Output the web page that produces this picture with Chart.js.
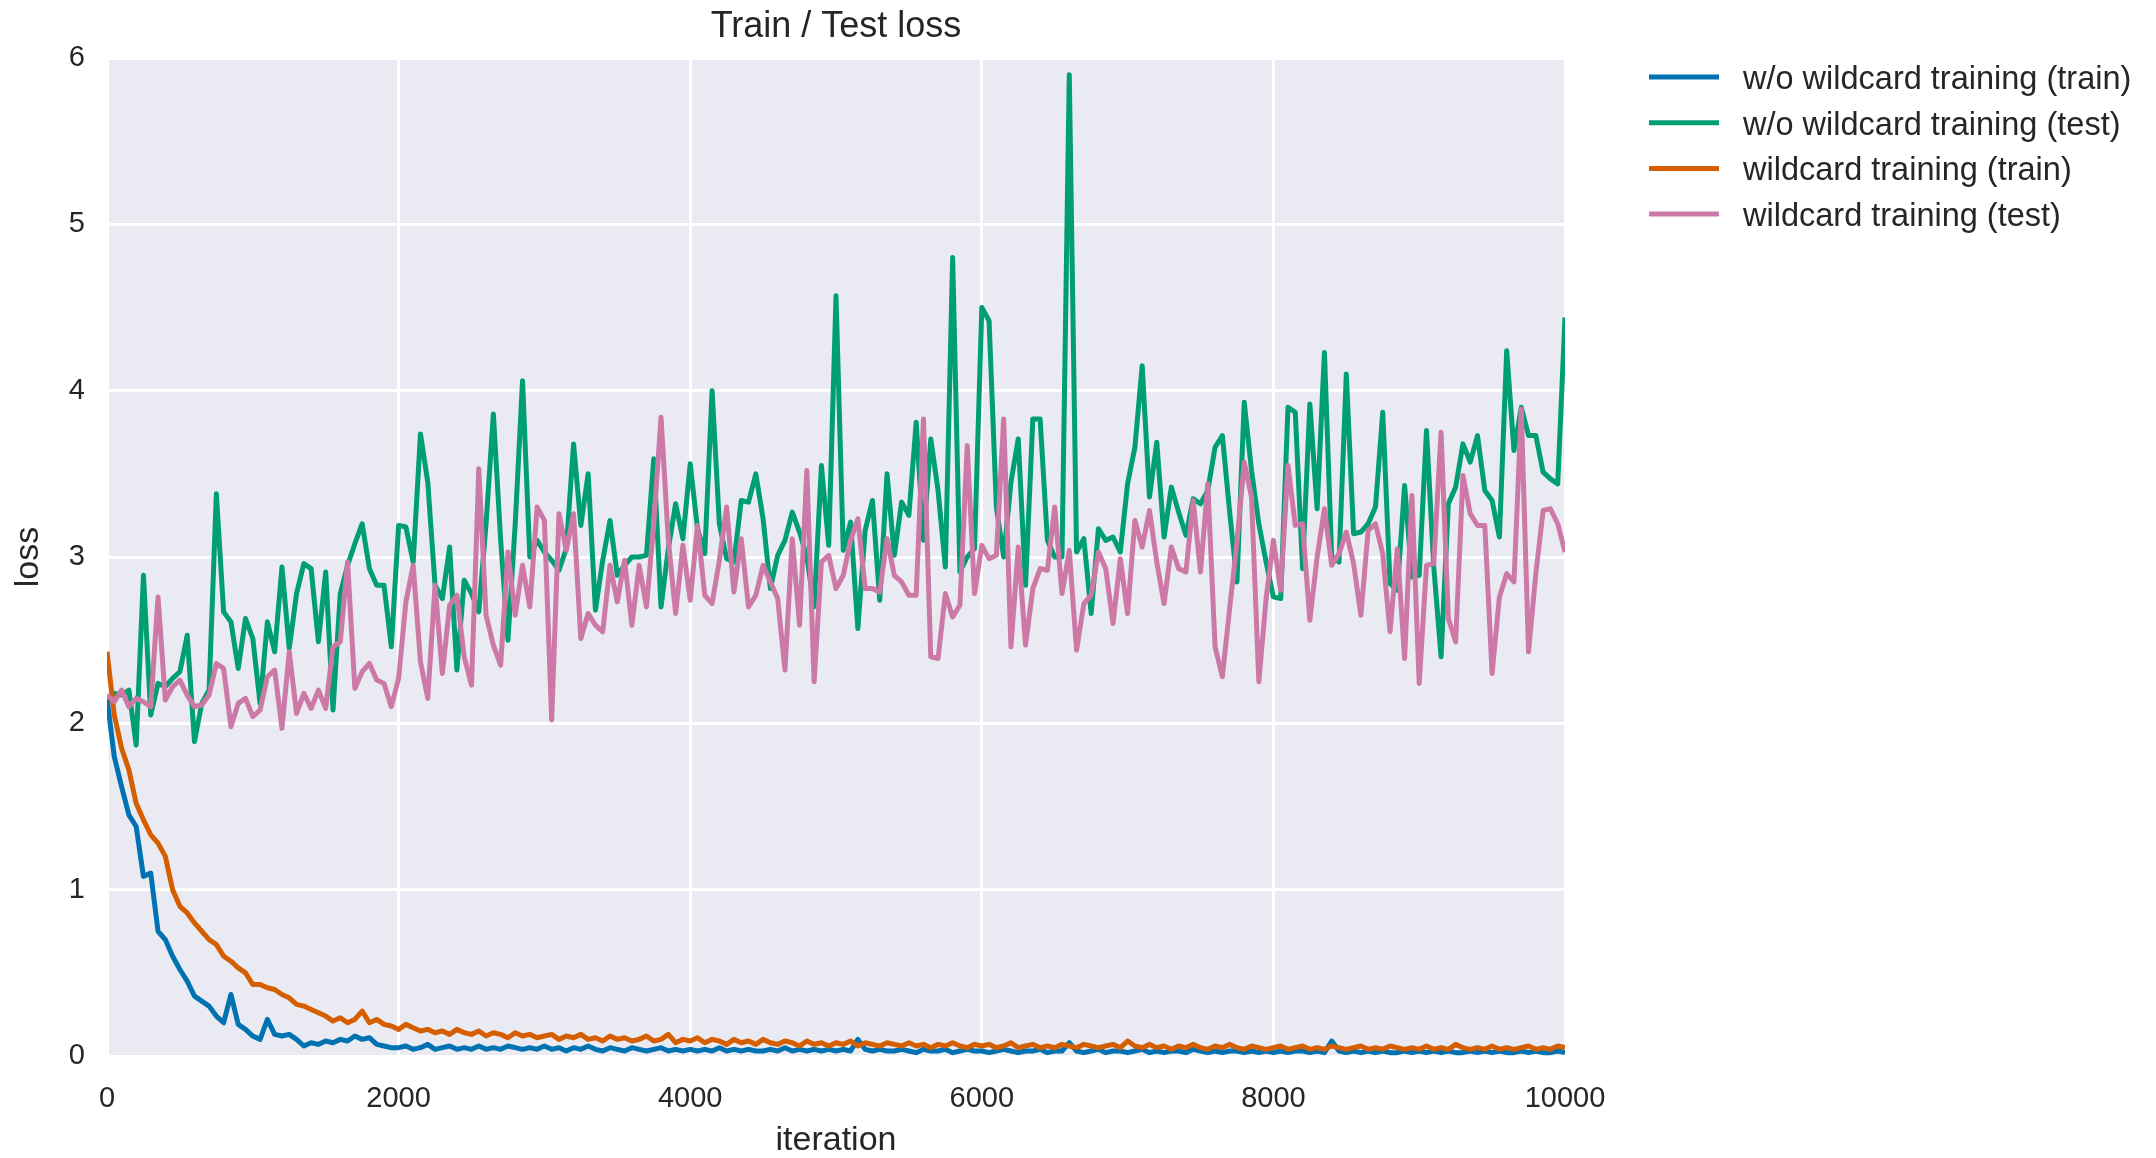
<!DOCTYPE html>
<html lang="en">

<head>
  <meta charset="UTF-8">
  <title>Train / Test loss</title>
  <!-- Chart.js para desenhar o gráfico -->
  <script src="https://cdn.jsdelivr.net/npm/chart.js"></script>
  <style>
    body { margin: 0; background: #ffffff; }
    canvas { display: block; }
  </style>
</head>

<body>
  <canvas id="grafico" width="2156" height="1158"></canvas>

  <script>
    // Intervalo entre as medições (iterações)
    var STEP = 50;

    // Ticks dos eixos
    var xTicks = [0, 2000, 4000, 6000, 8000, 10000];
    var yTicks = [0, 1, 2, 3, 4, 5, 6];

    // Nomes das séries (legenda)
    var seriesNames = [
      'w/o wildcard training (train)',
      'w/o wildcard training (test)',
      'wildcard training (train)',
      'wildcard training (test)'
    ];
    var seriesColors = ['#0072B2', '#009E73', '#D55E00', '#CC79A7'];

    // w/o wildcard training (train), uma medição a cada 50 iterações
    var woTrain = [
      2.15, 1.8, 1.62, 1.45, 1.38, 1.08, 1.1, 0.75, 0.7, 0.6, 0.52, 0.45, 0.36, 0.33, 0.3, 0.24, 0.2, 0.37, 0.19, 0.16,
      0.12, 0.1, 0.22, 0.13, 0.12, 0.13, 0.1, 0.06, 0.08, 0.07, 0.09, 0.08, 0.1, 0.09, 0.12, 0.1, 0.11, 0.07, 0.06, 0.05,
      0.05,
      0.06, 0.04, 0.05, 0.07, 0.04, 0.05, 0.06, 0.04, 0.05, 0.04, 0.06, 0.04, 0.05, 0.04, 0.06, 0.05, 0.04, 0.05, 0.04, 0.06,
      0.04, 0.05, 0.03, 0.05, 0.04, 0.06, 0.04, 0.03, 0.05, 0.04, 0.03, 0.05, 0.04, 0.03, 0.04, 0.05, 0.03, 0.04, 0.03, 0.04,
      0.03, 0.04, 0.03, 0.05, 0.03, 0.04, 0.03, 0.04, 0.03, 0.03, 0.04, 0.03, 0.05, 0.03, 0.04, 0.03, 0.04, 0.03, 0.04, 0.03,
      0.04, 0.03, 0.1, 0.04, 0.03, 0.04, 0.03, 0.03, 0.04, 0.03, 0.02, 0.04, 0.03, 0.03, 0.04, 0.02, 0.03, 0.04, 0.03, 0.03,
      0.02, 0.03, 0.04, 0.03, 0.02, 0.03, 0.03, 0.04, 0.02, 0.03, 0.03, 0.08, 0.03, 0.02, 0.03, 0.04, 0.02, 0.03, 0.03, 0.02,
      0.03, 0.04, 0.02, 0.03, 0.02, 0.03, 0.03, 0.02, 0.04, 0.03, 0.02, 0.03, 0.02, 0.03, 0.03, 0.02, 0.03, 0.02, 0.03, 0.02,
      0.03, 0.02, 0.03, 0.03, 0.02, 0.03, 0.02, 0.09, 0.03, 0.02, 0.03, 0.02, 0.03, 0.02, 0.03, 0.02, 0.02, 0.03, 0.02, 0.03,
      0.02, 0.03, 0.02, 0.03, 0.02, 0.02, 0.03, 0.02, 0.03, 0.02, 0.03, 0.02, 0.02, 0.03, 0.02, 0.03, 0.02, 0.02, 0.03, 0.02
    ];

    // w/o wildcard training (test)
    var woTest = [
      2.15, 2.18, 2.17, 2.2, 1.87, 2.89, 2.05, 2.24, 2.22, 2.27, 2.31, 2.53, 1.89, 2.12, 2.2, 3.38, 2.67, 2.61, 2.33, 2.63,
      2.51, 2.12, 2.61, 2.43, 2.94, 2.45, 2.78, 2.96, 2.93, 2.49, 2.91, 2.08, 2.78, 2.95, 3.08, 3.2, 2.93, 2.83, 2.83, 2.46,
      3.19,
      3.18, 2.97, 3.74, 3.45, 2.83, 2.75, 3.06, 2.32, 2.86, 2.78, 2.67, 3.2, 3.86, 3.1, 2.5, 3.2, 4.06, 3.0, 3.1, 3.03,
      2.98, 2.92, 3.05, 3.68, 3.19, 3.5, 2.68, 2.98, 3.22, 2.89, 2.95, 3.0, 3.0, 3.01, 3.59, 2.7, 3.05, 3.32, 3.11,
      3.56, 3.17, 3.02, 4.0, 3.2, 2.99, 2.97, 3.34, 3.33, 3.5, 3.23, 2.81, 3.01, 3.1, 3.27, 3.15, 3.0, 2.7, 3.55, 3.07,
      4.57, 3.04, 3.21, 2.57, 3.16, 3.34, 2.74, 3.5, 3.01, 3.33, 3.25, 3.81, 3.1, 3.71, 3.4, 2.94, 4.8, 2.91, 3.0, 3.05,
      4.5, 4.42, 3.3, 3.0, 3.45, 3.71, 2.83, 3.83, 3.83, 3.1, 3.0, 3.0, 5.9, 3.03, 3.11, 2.66, 3.17, 3.1, 3.12, 3.03,
      3.44, 3.66, 4.15, 3.36, 3.69, 3.12, 3.42, 3.27, 3.13, 3.35, 3.32, 3.4, 3.66, 3.73, 3.27, 2.85, 3.93, 3.52, 3.2,
      2.97, 2.76, 2.75, 3.9, 3.87, 2.93, 3.92, 3.29, 4.23, 3.0, 2.97, 4.1, 3.14, 3.15, 3.2, 3.3, 3.87, 2.84, 2.8, 3.43,
      2.88, 2.89, 3.76, 2.94, 2.4, 3.32, 3.42, 3.68, 3.57, 3.73, 3.4, 3.34, 3.12, 4.24, 3.64, 3.9, 3.73, 3.73, 3.51, 3.47,
      3.44, 4.44
    ];

    // wildcard training (train)
    var wcTrain = [
      2.43, 2.05, 1.85, 1.72, 1.52, 1.42, 1.33, 1.28, 1.2, 1.0, 0.9, 0.86, 0.8, 0.75, 0.7, 0.67, 0.6, 0.57, 0.53, 0.5,
      0.43, 0.43, 0.41, 0.4, 0.37, 0.35, 0.31, 0.3, 0.28, 0.26, 0.24, 0.21, 0.23, 0.2, 0.22, 0.27, 0.2, 0.22, 0.19, 0.18,
      0.16,
      0.19, 0.17, 0.15, 0.16, 0.14, 0.15, 0.13, 0.16, 0.14, 0.13, 0.15, 0.12, 0.14, 0.13, 0.11, 0.14, 0.12, 0.13, 0.11, 0.12,
      0.13, 0.1, 0.12, 0.11, 0.13, 0.1, 0.11, 0.09, 0.12, 0.1, 0.11, 0.09, 0.1, 0.12, 0.09, 0.1, 0.13, 0.08, 0.1, 0.09,
      0.11, 0.08, 0.1, 0.09, 0.07, 0.1, 0.08, 0.09, 0.07, 0.1, 0.08, 0.07, 0.09, 0.08, 0.06, 0.09, 0.07, 0.08, 0.06, 0.08,
      0.07, 0.09, 0.06, 0.08, 0.07, 0.06, 0.08, 0.07, 0.06, 0.08, 0.06, 0.07, 0.05, 0.07, 0.06, 0.08, 0.06, 0.05, 0.07, 0.06,
      0.07, 0.05, 0.06, 0.08, 0.05, 0.06, 0.07, 0.05, 0.06, 0.05, 0.07, 0.06, 0.05, 0.07, 0.06, 0.05, 0.06, 0.07, 0.05, 0.09,
      0.06, 0.05, 0.07, 0.05, 0.06, 0.04, 0.06, 0.05, 0.07, 0.05, 0.04, 0.06, 0.05, 0.07, 0.05, 0.04, 0.06, 0.05, 0.04, 0.05,
      0.06, 0.04, 0.05, 0.06, 0.04, 0.05, 0.04, 0.06, 0.05, 0.04, 0.05, 0.06, 0.04, 0.05, 0.04, 0.06, 0.05, 0.04, 0.05, 0.04,
      0.06, 0.04, 0.05, 0.04, 0.07, 0.05, 0.04, 0.05, 0.04, 0.06, 0.04, 0.05, 0.04, 0.05, 0.06, 0.04, 0.05, 0.04, 0.06, 0.05
    ];

    // wildcard training (test)
    var wcTest = [
      2.17, 2.13, 2.2, 2.1, 2.15, 2.13, 2.1, 2.76, 2.14, 2.22, 2.26, 2.17, 2.1, 2.11, 2.17, 2.36, 2.33, 1.98, 2.12, 2.15,
      2.04, 2.08, 2.28, 2.32, 1.97, 2.43, 2.06, 2.18, 2.09, 2.2, 2.09, 2.46, 2.49, 2.97, 2.21, 2.31, 2.36, 2.26, 2.24, 2.1,
      2.27,
      2.73, 2.95, 2.37, 2.15, 2.83, 2.3, 2.71, 2.77, 2.4, 2.23, 3.53, 2.65, 2.47, 2.35, 3.03, 2.65, 2.95, 2.7, 3.3, 3.22,
      2.02, 3.26, 3.04, 3.26, 2.51, 2.66, 2.59, 2.55, 2.95, 2.73, 2.98, 2.59, 2.95, 2.7, 3.2, 3.84, 3.1, 2.66, 3.07,
      2.74, 3.19, 2.77, 2.72, 2.98, 3.3, 2.79, 3.11, 2.7, 2.77, 2.95, 2.85, 2.75, 2.32, 3.11, 2.59, 3.52, 2.25, 2.97, 3.01,
      2.81, 2.89, 3.1, 3.23, 2.81, 2.81, 2.79, 3.11, 2.89, 2.85, 2.77, 2.77, 3.83, 2.4, 2.39, 2.78, 2.64, 2.71, 3.67, 2.78,
      3.07,
      2.99, 3.01, 3.83, 2.46, 3.06, 2.47, 2.81, 2.93, 2.92, 3.3, 2.78, 3.04, 2.44, 2.72, 2.77, 3.03, 2.93, 2.6, 2.99, 2.66,
      3.22, 3.06, 3.28, 2.97, 2.72, 3.06, 2.93, 2.91, 3.34, 2.91, 3.44, 2.46, 2.28, 2.69, 3.09, 3.57, 3.36, 2.25, 2.75,
      3.1, 2.8, 3.55, 3.19, 3.2, 2.62, 3.0, 3.29, 2.95, 3.02, 3.15, 2.96, 2.65, 3.16, 3.2, 3.02, 2.55, 3.05, 2.39, 3.37,
      2.24, 2.95, 2.96, 3.75, 2.63, 2.49, 3.49, 3.26, 3.19, 3.19, 2.3, 2.76, 2.9, 2.85, 3.89, 2.43, 2.9, 3.28, 3.29, 3.2,
      3.03
    ];

    var FONTE = "'Liberation Sans', Arial, sans-serif";
    var COR_TEXTO = '#262626';

    // Transforma a lista de valores em pontos {x, y}
    function pontos(valores) {
      var lista = [];
      for (var i = 0; i < valores.length; i++) {
        lista.push({ x: i * STEP, y: valores[i] });
      }
      return lista;
    }

    // Fundo do gráfico, título e legenda desenhados à mão
    var estiloSeaborn = {
      id: 'estiloSeaborn',
      beforeDraw: function (chart) {
        var ctx = chart.ctx;
        var area = chart.chartArea;
        ctx.save();
        ctx.fillStyle = '#ffffff';
        ctx.fillRect(0, 0, chart.width, chart.height);
        ctx.fillStyle = '#EAEAF2';
        ctx.fillRect(area.left, area.top, area.right - area.left, area.bottom - area.top);
        ctx.restore();
      },
      afterDraw: function (chart) {
        var ctx = chart.ctx;
        var area = chart.chartArea;
        ctx.save();

        // título
        ctx.fillStyle = COR_TEXTO;
        ctx.font = '36px ' + FONTE;
        ctx.textAlign = 'center';
        ctx.textBaseline = 'alphabetic';
        ctx.fillText('Train / Test loss', (area.left + area.right) / 2, 37);

        // legenda
        ctx.font = '32.5px ' + FONTE;
        ctx.textAlign = 'left';
        var conjuntos = chart.data.datasets;
        for (var i = 0; i < conjuntos.length; i++) {
          var y = 77 + i * 45.7;
          ctx.strokeStyle = conjuntos[i].borderColor;
          ctx.lineWidth = 5;
          ctx.beginPath();
          ctx.moveTo(1649, y);
          ctx.lineTo(1719, y);
          ctx.stroke();
          ctx.fillStyle = COR_TEXTO;
          ctx.fillText(conjuntos[i].label, 1743, y + 12);
        }
        ctx.restore();
      }
    };

    var todasSeries = [woTrain, woTest, wcTrain, wcTest];
    var conjuntos = [];
    for (var i = 0; i < todasSeries.length; i++) {
      conjuntos.push({
        label: seriesNames[i],
        data: pontos(todasSeries[i]),
        borderColor: seriesColors[i],
        backgroundColor: seriesColors[i],
        borderWidth: 5,
        pointRadius: 0,
        tension: 0,
        borderJoinStyle: 'round',
        order: todasSeries.length - i // a última série fica por cima
      });
    }

    var grade = { color: '#ffffff', lineWidth: 3, drawTicks: false };

    new Chart(document.getElementById('grafico'), {
      type: 'line',
      data: { datasets: conjuntos },
      options: {
        responsive: false,
        devicePixelRatio: 1,
        animation: false,
        layout: { padding: { left: 0, right: 591, top: 58, bottom: 0 } },
        plugins: {
          legend: { display: false },
          tooltip: { enabled: false }
        },
        scales: {
          x: {
            type: 'linear',
            min: 0,
            max: 10000,
            grid: grade,
            border: { display: false },
            afterBuildTicks: function (scale) {
              scale.ticks = xTicks.map(function (v) { return { value: v }; });
            },
            afterFit: function (scale) { scale.height = 102; },
            ticks: {
              color: COR_TEXTO,
              font: { size: 29, family: FONTE },
              padding: 26,
              maxRotation: 0,
              autoSkip: false,
              callback: function (valor) { return String(valor); }
            },
            title: {
              display: true,
              text: 'iteration',
              color: COR_TEXTO,
              font: { size: 34, family: FONTE, lineHeight: 1 },
              padding: { top: 0, bottom: 0 }
            }
          },
          y: {
            min: 0,
            max: 6,
            grid: grade,
            border: { display: false },
            afterBuildTicks: function (scale) {
              scale.ticks = yTicks.map(function (v) { return { value: v }; });
            },
            afterFit: function (scale) { scale.width = 107; },
            ticks: {
              color: COR_TEXTO,
              font: { size: 29, family: FONTE },
              padding: 22,
              callback: function (valor) { return String(valor); }
            },
            title: {
              display: true,
              text: 'loss',
              color: COR_TEXTO,
              font: { size: 34, family: FONTE, lineHeight: 1 },
              padding: { top: 12, bottom: 0 }
            }
          }
        }
      },
      plugins: [estiloSeaborn]
    });
  </script>
</body>

</html>
